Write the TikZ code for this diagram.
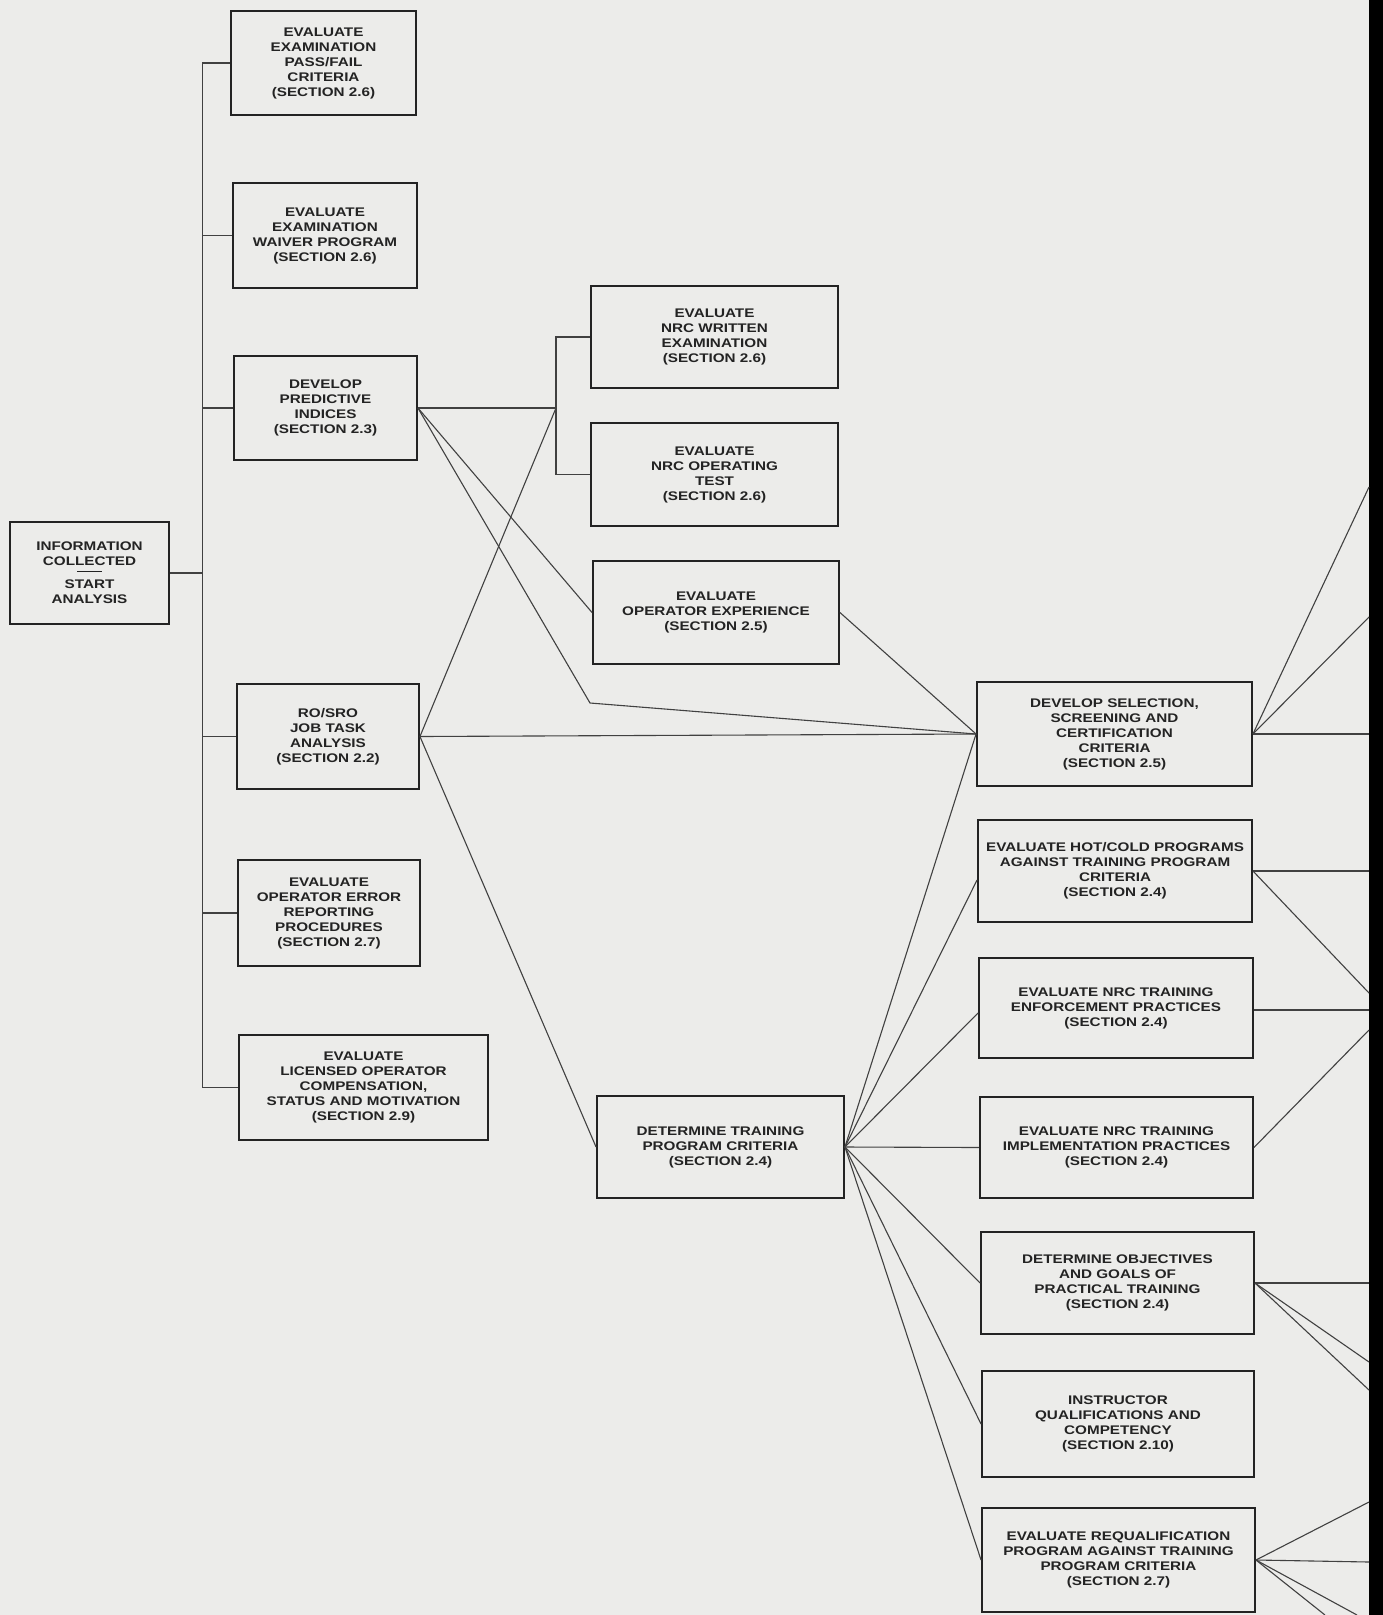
\documentclass[tikz,border=0pt]{standalone}
\usepackage{fontspec}
\setmainfont{Liberation Sans}[FakeStretch=1.22]
\usetikzlibrary{calc}
\definecolor{bg}{RGB}{236,236,234}
\definecolor{ink}{RGB}{35,35,35}
\definecolor{wire}{RGB}{65,65,65}
\newcommand\boxat[6]{\node[box, minimum width={(#4)-(#2)}, minimum height={(#5)-(#3)}] (#1) at ({((#2)+(#4))/2},{((#3)+(#5))/2}) {#6};}
\begin{document}
\begin{tikzpicture}[x=1pt,y=-1pt,
  box/.style={draw=ink, line width=1.9pt, align=center, inner sep=0pt, text=ink,
    font=\bfseries\fontsize{12.5}{15}\selectfont},
  link/.style={draw=wire, line width=1.1pt}]
\fill[bg] (0,0) rectangle (1383,1615);
\useasboundingbox (0,0) rectangle (1383,1615);
% scan edge band
\fill[black] (1369,0) rectangle (1383,1615);

% left column
\boxat{pf}{231}{11}{416}{115}{EVALUATE\\EXAMINATION\\PASS/FAIL\\CRITERIA\\(SECTION 2.6)}
\boxat{wv}{233}{183}{417}{288}{EVALUATE\\EXAMINATION\\WAIVER PROGRAM\\(SECTION 2.6)}
\boxat{pi}{234}{356}{417}{460}{DEVELOP\\PREDICTIVE\\INDICES\\(SECTION 2.3)}
\boxat{info}{10}{522}{169}{624}{INFORMATION\\COLLECTED\\[-9pt]\rule{25pt}{1.2pt}\\[2pt]START\\ANALYSIS}
\boxat{rs}{237}{684}{419}{789}{RO/SRO\\JOB TASK\\ANALYSIS\\(SECTION 2.2)}
\boxat{oe}{238}{860}{420}{966}{EVALUATE\\OPERATOR ERROR\\REPORTING\\PROCEDURES\\(SECTION 2.7)}
\boxat{lo}{239}{1035}{488}{1140}{EVALUATE\\LICENSED OPERATOR\\COMPENSATION,\\STATUS AND MOTIVATION\\(SECTION 2.9)}

% middle column
\boxat{nw}{591}{286}{838}{388}{EVALUATE\\NRC WRITTEN\\EXAMINATION\\(SECTION 2.6)}
\boxat{no}{591}{423}{838}{526}{EVALUATE\\NRC OPERATING\\TEST\\(SECTION 2.6)}
\boxat{ox}{593}{561}{839}{664}{EVALUATE\\OPERATOR EXPERIENCE\\(SECTION 2.5)}
\boxat{dt}{597}{1096}{844}{1198}{DETERMINE TRAINING\\PROGRAM CRITERIA\\(SECTION 2.4)}

% right column
\boxat{ss}{977}{682}{1252}{786}{DEVELOP SELECTION,\\SCREENING AND\\CERTIFICATION\\CRITERIA\\(SECTION 2.5)}
\boxat{hc}{978}{820}{1252}{922}{EVALUATE HOT/COLD PROGRAMS\\AGAINST TRAINING PROGRAM\\CRITERIA\\(SECTION 2.4)}
\boxat{ef}{979}{958}{1253}{1058}{EVALUATE NRC TRAINING\\ENFORCEMENT PRACTICES\\(SECTION 2.4)}
\boxat{im}{980}{1097}{1253}{1198}{EVALUATE NRC TRAINING\\IMPLEMENTATION PRACTICES\\(SECTION 2.4)}
\boxat{ob}{981}{1232}{1254}{1334}{DETERMINE OBJECTIVES\\AND GOALS OF\\PRACTICAL TRAINING\\(SECTION 2.4)}
\boxat{iq}{982}{1371}{1254}{1477}{INSTRUCTOR\\QUALIFICATIONS AND\\COMPETENCY\\(SECTION 2.10)}
\boxat{rq}{982}{1508}{1255}{1612}{EVALUATE REQUALIFICATION\\PROGRAM AGAINST TRAINING\\PROGRAM CRITERIA\\(SECTION 2.7)}

% main bus
\draw[link] (pf.west) -- ++(-28,0) coordinate (bt);
\draw[link] (bt) -- (lo.west -| bt);
\foreach \n in {wv,pi,rs,oe,lo} \draw[link] (\n.west) -- (\n.west -| bt);
\draw[link] (info.east) -- (info.east -| bt);

% second bus
\coordinate (j2) at (556,408);
\draw[link] (nw.west) -- (nw.west -| j2) -- (no.west -| j2) -- (no.west);
\draw[link] (pi.east) -- (j2);
\draw[link] (rs.east) -- (j2);
\draw[link] (pi.east) -- (ox.west);
\coordinate (k1) at (590,703);
\draw[link] (pi.east) -- (k1) -- (ss.west);
\draw[link] (rs.east) -- (ss.west);
\draw[link] (rs.east) -- (dt.west);
\draw[link] (ox.east) -- (ss.west);

% fan from determine training
\draw[link] (dt.east) -- (ss.west);
\draw[link] (dt.east) -- ([yshift=-9pt]hc.west);
\draw[link] (dt.east) -- ([yshift=-5pt]ef.west);
\draw[link] (dt.east) -- (im.west);
\draw[link] (dt.east) -- (ob.west);
\draw[link] (dt.east) -- (iq.west);
\draw[link] (dt.east) -- (rq.west);

% right-hand connectors running off the edge
\coordinate (e1) at (1369,487);
\coordinate (e2) at (1369,617);
\coordinate (e3) at (1369,734);
\coordinate (e4) at (1369,871);
\coordinate (e5) at (1369,993);
\coordinate (e6) at (1369,1010);
\coordinate (e7) at (1369,1030);
\coordinate (e8) at (1369,1283);
\coordinate (e9) at (1369,1362);
\coordinate (e10) at (1369,1390);
\coordinate (e11) at (1369,1502);
\coordinate (e12) at (1369,1562);
\coordinate (e13) at (1325,1615);
\coordinate (e14) at (1357,1615);
\draw[link] (ss.east) -- (e1);
\draw[link] (ss.east) -- (e2);
\draw[link] (ss.east) -- (e3);
\draw[link] (hc.east) -- (e4);
\draw[link] (hc.east) -- (e5);
\draw[link] ([yshift=-2pt]ef.east) -- (e6);
\draw[link] (im.east) -- (e7);
\draw[link] (ob.east) -- (e8);
\draw[link] (ob.east) -- (e9);
\draw[link] (ob.east) -- (e10);
\draw[link] (rq.east) -- (e11);
\draw[link] (rq.east) -- (e12);
\draw[link] (rq.east) -- (e13);
\draw[link] (rq.east) -- (e14);
\end{tikzpicture}
\end{document}
